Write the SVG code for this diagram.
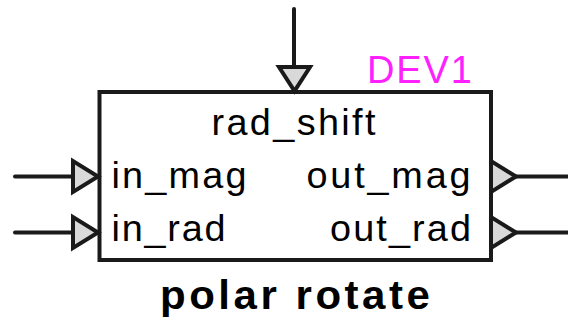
<svg xmlns="http://www.w3.org/2000/svg" width="568" height="320" viewBox="0 0 568 320">
  <style>
    .wire { stroke: #1a1a1a; stroke-width: 4; fill: none; stroke-linecap: round; }
    .pin { stroke: #1a1a1a; stroke-width: 4; fill: #d9d9d9; stroke-linejoin: miter; }
    .body { stroke: #1a1a1a; stroke-width: 4; fill: #ffffff; }
    .lbl { font-family: "Liberation Sans", Arial, sans-serif; font-size: 36px; fill: #000000; }
    .ref { font-family: "Liberation Sans", Arial, sans-serif; font-size: 38px; fill: #ff1fff; }
    .name { font-family: "Liberation Sans", Arial, sans-serif; font-size: 40px; font-weight: bold; fill: #000000; }
  </style>

  <!-- nets attached to the block -->
  <g id="connectors">
    <line class="wire" x1="294" y1="9" x2="294" y2="67"/>
    <line class="wire" x1="15" y1="176.5" x2="73" y2="176.5"/>
    <line class="wire" x1="15" y1="232.5" x2="73" y2="232.5"/>
    <line class="wire" x1="516" y1="176.5" x2="568" y2="176.5"/>
    <line class="wire" x1="516" y1="232.5" x2="568" y2="232.5"/>
  </g>

  <!-- polar rotate block; labels use a slightly widened face -->
  <g id="dev1">
    <rect class="body" x="99.5" y="92" width="391.5" height="168"/>
    <text class="ref" x="367" y="83" textLength="105" lengthAdjust="spacing">DEV1</text>
    <text class="name" transform="translate(160,308.5) scale(1.05,1)" textLength="257" lengthAdjust="spacing">polar rotate</text>
  </g>

  <g id="port-rad_shift">
    <polygon class="pin" points="279,67 310,67 294.5,91"/>
    <text class="lbl" transform="translate(211.5,135) scale(1.05,1)" textLength="156.2" lengthAdjust="spacing">rad_shift</text>
  </g>

  <g id="port-in_mag">
    <polygon class="pin" points="73,161 73,192 98,176.5"/>
    <text class="lbl" transform="translate(111.5,187.5) scale(1.05,1)" textLength="128.6" lengthAdjust="spacing">in_mag</text>
  </g>

  <g id="port-in_rad">
    <polygon class="pin" points="73,217 73,248 98,232.5"/>
    <text class="lbl" transform="translate(111.5,241) scale(1.05,1)" textLength="108.6" lengthAdjust="spacing">in_rad</text>
  </g>

  <g id="port-out_mag">
    <polygon class="pin" points="491,161 491,192 516,176.5"/>
    <text class="lbl" transform="translate(306.5,187.5) scale(1.05,1)" textLength="156.2" lengthAdjust="spacing">out_mag</text>
  </g>

  <g id="port-out_rad">
    <polygon class="pin" points="491,217 491,248 516,232.5"/>
    <text class="lbl" transform="translate(330,241) scale(1.05,1)" textLength="134.3" lengthAdjust="spacing">out_rad</text>
  </g>
</svg>
